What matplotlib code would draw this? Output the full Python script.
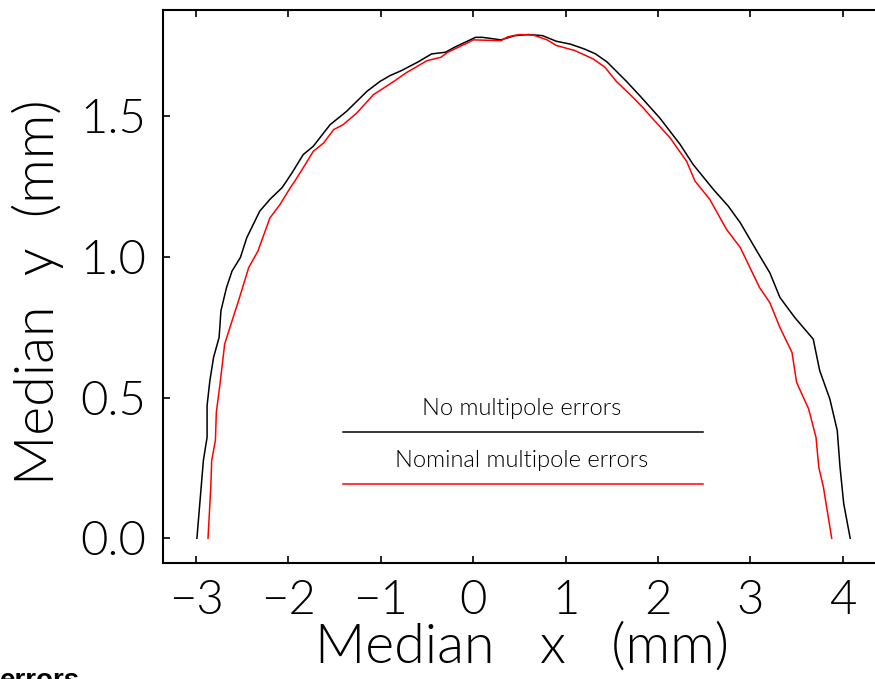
import matplotlib
matplotlib.use('Agg')
import matplotlib.pyplot as plt

# median orbit, no multipole errors (black)
x_none = [-2.99, -2.92, -2.88, -2.88, -2.85, -2.81, -2.75, -2.73, -2.67, -2.61,
          -2.52, -2.45, -2.31, -2.20, -2.07, -2.02, -1.95, -1.84, -1.73, -1.55,
          -1.37, -1.15, -1.01, -0.90, -0.775, -0.60, -0.45, -0.30, -0.20, 0.025,
          0.10, 0.30, 0.45, 0.60, 0.75, 0.90, 1.05, 1.20, 1.325, 1.45,
          1.66, 1.81, 2.02, 2.24, 2.38, 2.60, 2.76, 2.89, 3.07, 3.21,
          3.32, 3.48, 3.68, 3.75, 3.86, 3.94, 3.97, 4.01, 4.08]
y_none = [0.0, 0.277, 0.359, 0.472, 0.56, 0.643, 0.714, 0.809, 0.891, 0.950,
          0.998, 1.069, 1.163, 1.205, 1.246, 1.270, 1.305, 1.364, 1.394, 1.470,
          1.518, 1.589, 1.624, 1.645, 1.663, 1.693, 1.722, 1.728, 1.746, 1.781,
          1.781, 1.772, 1.787, 1.791, 1.787, 1.767, 1.757, 1.740, 1.722, 1.693,
          1.624, 1.571, 1.494, 1.400, 1.329, 1.240, 1.181, 1.122, 1.021, 0.944,
          0.856, 0.785, 0.708, 0.596, 0.495, 0.383, 0.253, 0.123, 0.0]

# median orbit, nominal multipole errors (red)
x_nom = [-2.87, -2.84, -2.83, -2.79, -2.78, -2.74, -2.69, -2.61, -2.54, -2.43,
         -2.33, -2.20, -2.09, -1.98, -1.93, -1.84, -1.73, -1.62, -1.51, -1.41,
         -1.26, -1.08, -0.86, -0.725, -0.50, -0.35, -0.275, -0.05, 0.0, 0.30,
         0.375, 0.50, 0.65, 0.80, 0.90, 1.10, 1.30, 1.425, 1.55, 1.70,
         1.84, 1.95, 2.13, 2.31, 2.40, 2.56, 2.74, 2.89, 3.10, 3.21,
         3.32, 3.45, 3.50, 3.63, 3.71, 3.74, 3.79, 3.88]
y_nom = [0.0, 0.182, 0.277, 0.348, 0.448, 0.549, 0.690, 0.773, 0.844, 0.962,
         1.021, 1.139, 1.187, 1.246, 1.270, 1.317, 1.376, 1.405, 1.453, 1.470,
         1.512, 1.577, 1.624, 1.655, 1.698, 1.710, 1.728, 1.763, 1.772, 1.769,
         1.783, 1.791, 1.789, 1.772, 1.752, 1.734, 1.704, 1.675, 1.624, 1.577,
         1.530, 1.489, 1.424, 1.340, 1.270, 1.205, 1.099, 1.034, 0.891, 0.838,
         0.749, 0.661, 0.554, 0.460, 0.359, 0.253, 0.182, 0.0]

x_ticks = [-3, -2, -1, 0, 1, 2, 3, 4]
y_ticks = [0.0, 0.5, 1.0, 1.5]
labels = ['No multipole errors', 'Nominal multipole errors']

plt.rcParams['font.family'] = ['Lato', 'DejaVu Sans']
plt.rcParams['font.weight'] = 300
plt.rcParams['axes.labelweight'] = 300

fig = plt.figure(figsize=(8.75, 6.79), dpi=100)
# right spine sits just past the page edge, as in the original
ax = fig.add_axes([0.1863, 0.1708, 0.8297, 0.8144])

ax.plot(x_none, y_none, color='black', lw=1.1)
ax.plot(x_nom, y_nom, color='red', lw=1.1)

ax.set_xlim(-3.357, 4.5)
ax.set_ylim(-0.088, 1.878)
ax.set_xticks(x_ticks)
ax.set_xticklabels(['\u22123', '\u22122', '\u22121', '0', '1', '2', '3', '4'])
ax.set_yticks(y_ticks)
ax.set_yticklabels(['0.0', '0.5', '1.0', '1.5'])
ax.tick_params(direction='in', length=5, width=1.2, top=True, right=True,
               labelsize=34, pad=12)
for s in ax.spines.values():
    s.set_linewidth(1.5)

ax.set_xlabel('Median   x   (mm)', fontsize=40, fontweight=300)
ax.set_ylabel('Median  y  (mm)', fontsize=40, fontweight=300)
ax.xaxis.set_label_coords(0.4945, -0.108)
ax.yaxis.set_label_coords(-0.137, 0.49)

# hand-drawn key inside the frame
ax.text(0.4945, 0.280, labels[0], transform=ax.transAxes, ha='center',
        va='center', fontsize=17, fontweight=300)
ax.plot([0.248, 0.744], [0.237, 0.237], transform=ax.transAxes,
        color='black', lw=1.1)
ax.text(0.4945, 0.186, labels[1], transform=ax.transAxes, ha='center',
        va='center', fontsize=17, fontweight=300)
ax.plot([0.248, 0.744], [0.143, 0.143], transform=ax.transAxes,
        color='red', lw=1.1)

# caption of the next item, cut off by the page edge
fig.text(0.0, -0.013, 'errors', fontsize=20, fontweight='bold',
         family='Liberation Sans', va='baseline')

fig.savefig('out.png', dpi=100)
